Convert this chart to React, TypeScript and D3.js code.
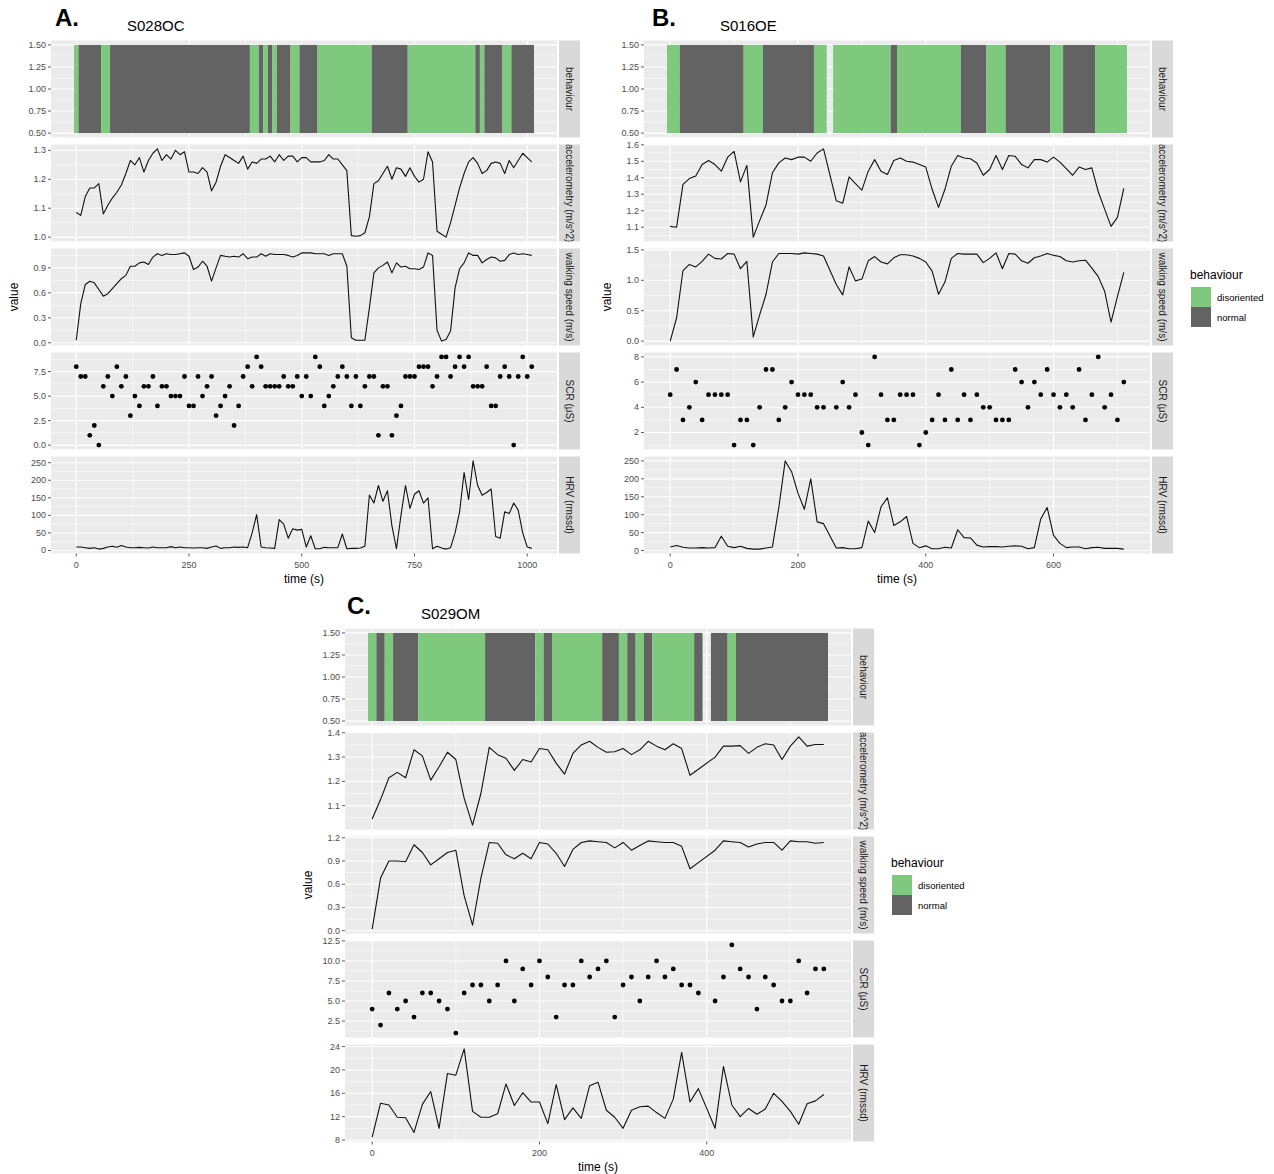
import React, { useEffect, useRef } from "react";
import * as d3 from "d3";

const FONT = "'Liberation Sans', Arial, Helvetica, sans-serif";
const GREEN = "#7FC97F";
const GREY = "#636363";
const PANEL_W = 506;
const PANEL_H = 97;
const PANEL_STEP = 104;
const STRIP_W = 21;

const FACETS = ["behaviour", "accelerometry (m/s^2)", "walking speed (m/s)", "SCR (\u03bcS)", "HRV (rmssd)"];
const BEHAVIOUR_LEVELS = ["disoriented", "normal"];
const BEHAVIOUR_TICKS = [0.5, 0.75, 1, 1.25, 1.5];

type Run = [number, number, string];

// ---- S028OC (A) ----
const A_TIME = d3.range(0, 1020, 10);
const A_ACC = [
  1.085, 1.075, 1.14, 1.17, 1.17, 1.185, 1.08, 1.11, 1.135, 1.155,
  1.18, 1.22, 1.265, 1.25, 1.275, 1.225, 1.265, 1.29, 1.305, 1.265,
  1.285, 1.27, 1.3, 1.285, 1.295, 1.225, 1.225, 1.22, 1.24, 1.225,
  1.16, 1.19, 1.245, 1.285, 1.275, 1.265, 1.255, 1.28, 1.235, 1.26,
  1.255, 1.27, 1.27, 1.28, 1.26, 1.285, 1.265, 1.28, 1.28, 1.26,
  1.275, 1.275, 1.26, 1.26, 1.26, 1.265, 1.285, 1.27, 1.27, 1.25,
  1.23, 1.005, 1.003, 1.005, 1.015, 1.07, 1.185, 1.195, 1.22, 1.245,
  1.2, 1.24, 1.235, 1.21, 1.24, 1.21, 1.19, 1.2, 1.295, 1.26,
  1.02, 1.01, 1.0, 1.05, 1.11, 1.17, 1.22, 1.26, 1.275, 1.255,
  1.22, 1.23, 1.255, 1.26, 1.255, 1.22, 1.265, 1.24, 1.265, 1.29,
  1.275, 1.26,
];
const A_WALK = [
  0.03, 0.47, 0.7, 0.74, 0.72, 0.64, 0.56, 0.59, 0.65, 0.71,
  0.77, 0.81, 0.92, 0.92, 0.96, 0.97, 0.94, 1.03, 1.07, 1.05,
  1.07, 1.06, 1.06, 1.07, 1.08, 1.04, 0.88, 0.91, 0.98, 0.92,
  0.74, 0.9, 1.05, 1.04, 1.03, 1.04, 1.03, 1.07, 1.01, 1.03,
  1.03, 1.07, 1.04, 1.07, 1.06, 1.06, 1.06, 1.05, 1.03, 1.05,
  1.08, 1.08, 1.08, 1.07, 1.07, 1.07, 1.05, 1.07, 1.07, 1.07,
  0.92, 0.06, 0.03, 0.03, 0.03, 0.42, 0.84, 0.9, 0.93, 0.97,
  0.84, 0.96, 0.91, 0.92, 0.89, 0.89, 0.88, 0.91, 1.08, 1.05,
  0.15, 0.02, 0.04, 0.14, 0.66, 0.89, 0.96, 1.08, 1.05, 1.05,
  0.96, 1.0, 1.03, 1.02, 0.98, 0.99, 1.06, 1.08, 1.06, 1.07,
  1.06, 1.05,
];
const A_SCR = [
  8, 7, 7, 1, 2, 0, 6, 7, 5, 8,
  6, 7, 3, 5, 4, 6, 6, 7, 4, 6,
  6, 5, 5, 5, 7, 4, 4, 7, 5, 6,
  7, 3, 4, 5, 6, 2, 4, 7, 8, 6,
  9, 8, 6, 6, 6, 6, 7, 6, 6, 7,
  5, 7, 5, 9, 8, 4, 5, 6, 7, 8,
  7, 4, 7, 4, 6, 7, 7, 1, 6, 6,
  1, 3, 4, 7, 7, 7, 8, 8, 8, 6,
  7, 9, 9, 7, 8, 9, 8, 9, 6, 6,
  6, 8, 4, 4, 7, 8, 7, 0, 7, 9,
  7, 8,
];
const A_HRV = [
  10, 10, 8, 6, 8, 4, 6, 10, 12, 9,
  14, 10, 8, 8, 9, 8, 7, 10, 8, 8,
  8, 11, 8, 10, 8, 8, 7, 8, 8, 6,
  10, 13, 6, 8, 8, 10, 9, 10, 8, 50,
  102, 10, 8, 7, 6, 88, 75, 35, 62, 58,
  60, 10, 42, 5, 5, 9, 8, 8, 8, 47,
  5, 6, 6, 7, 12, 158, 135, 185, 140, 170,
  70, 5, 100, 185, 120, 160, 170, 135, 150, 5,
  12, 7, 4, 8, 50, 110, 222, 145, 255, 185,
  157, 165, 175, 40, 35, 110, 105, 135, 115, 50,
  10, 6,
];
const A_BEHAVIOUR: Run[] = [
  [0, 0, "disoriented"], [10, 50, "normal"], [60, 70, "disoriented"], [80, 380, "normal"],
  [390, 400, "disoriented"], [410, 410, "normal"], [420, 420, "disoriented"], [430, 430, "normal"],
  [440, 440, "disoriented"], [450, 470, "normal"], [480, 490, "disoriented"], [500, 530, "normal"],
  [540, 650, "disoriented"], [660, 730, "normal"], [740, 880, "disoriented"], [890, 890, "normal"],
  [900, 900, "disoriented"], [910, 940, "normal"], [950, 960, "disoriented"], [970, 1010, "normal"],
];
const A_X_TICKS = [0, 250, 500, 750, 1000];
const A_Y_TICKS = [BEHAVIOUR_TICKS, [1.0, 1.1, 1.2, 1.3], [0, 0.3, 0.6, 0.9], [0, 2.5, 5, 7.5], [0, 50, 100, 150, 200, 250]];
const A_Y_FORMATS = [".2f", ".1f", ".1f", ".1f", "d"];

// ---- S016OE (B) ----
const B_TIME = d3.range(0, 720, 10);
const B_ACC = [
  1.105, 1.1, 1.36, 1.395, 1.41, 1.48, 1.505, 1.48, 1.44, 1.525,
  1.56, 1.375, 1.475, 1.04, 1.14, 1.235, 1.43, 1.49, 1.52, 1.51,
  1.525, 1.525, 1.5, 1.55, 1.575, null, 1.26, 1.245, 1.405, 1.365,
  1.325, 1.44, 1.51, 1.44, 1.42, 1.505, 1.52, 1.5, 1.495, 1.48,
  1.465, 1.33, 1.22, 1.33, 1.47, 1.535, 1.52, 1.515, 1.49, 1.415,
  1.45, 1.535, 1.45, 1.535, 1.53, 1.48, 1.46, 1.51, 1.51, 1.495,
  1.525, 1.495, 1.455, 1.415, 1.465, 1.45, 1.46, 1.315, 1.21, 1.105,
  1.16, 1.335,
];
const B_WALK = [
  0.0, 0.38, 1.16, 1.26, 1.22, 1.31, 1.43, 1.36, 1.35, 1.44,
  1.43, 1.19, 1.31, 0.07, 0.43, 0.77, 1.3, 1.44, 1.44, 1.44,
  1.43, 1.45, 1.44, 1.43, 1.4, null, 0.93, 0.76, 1.22, 0.99,
  1.02, 1.32, 1.39, 1.3, 1.27, 1.37, 1.42, 1.42, 1.4, 1.36,
  1.3, 1.15, 0.77, 0.97, 1.36, 1.44, 1.43, 1.43, 1.43, 1.29,
  1.36, 1.45, 1.19, 1.44, 1.43, 1.32, 1.28, 1.37, 1.4, 1.44,
  1.41, 1.39, 1.32, 1.3, 1.32, 1.33, 1.2, 1.06, 0.82, 0.31,
  0.73, 1.13,
];
const B_SCR = [
  5, 7, 3, 4, 6, 3, 5, 5, 5, 5,
  1, 3, 3, 1, 4, 7, 7, 3, 4, 6,
  5, 5, 5, 4, 4, null, 4, 6, 4, 5,
  2, 1, 8, 5, 3, 3, 5, 5, 5, 1,
  2, 3, 5, 3, 7, 3, 5, 3, 5, 4,
  4, 3, 3, 3, 7, 6, 4, 6, 5, 7,
  5, 4, 5, 4, 7, 3, 5, 8, 4, 5,
  3, 6,
];
const B_HRV = [
  10, 14, 9, 7, 7, 8, 7, 8, 40, 12,
  8, 12, 6, 4, 4, 7, 10, 120, 250, 220,
  160, 115, 200, 80, 75, null, 7, 8, 5, 5,
  8, 82, 50, 122, 147, 70, 80, 95, 20, 8,
  13, 5, 5, 9, 7, 58, 36, 35, 15, 10,
  11, 11, 10, 12, 13, 12, 5, 8, 88, 120,
  42, 20, 8, 10, 10, 5, 8, 9, 6, 6,
  6, 4,
];
const B_BEHAVIOUR: Run[] = [
  [0, 10, "disoriented"], [20, 110, "normal"], [120, 140, "disoriented"], [150, 220, "normal"],
  [230, 240, "disoriented"], [260, 340, "disoriented"], [350, 350, "normal"], [360, 450, "disoriented"],
  [460, 490, "normal"], [500, 520, "disoriented"], [530, 590, "normal"], [600, 610, "disoriented"],
  [620, 660, "normal"], [670, 710, "disoriented"],
];
const B_X_TICKS = [0, 200, 400, 600];
const B_Y_TICKS = [BEHAVIOUR_TICKS, [1.1, 1.2, 1.3, 1.4, 1.5, 1.6], [0, 0.5, 1, 1.5], [2, 4, 6, 8], [0, 50, 100, 150, 200, 250]];
const B_Y_FORMATS = [".2f", ".1f", ".1f", "d", "d"];

// ---- S029OM (C) ----
const C_TIME = d3.range(0, 550, 10);
const C_ACC = [
  1.045, 1.125, 1.215, 1.237, 1.215, 1.33, 1.305, 1.205, 1.26, 1.32,
  1.29, 1.13, 1.02, 1.15, 1.34, 1.31, 1.295, 1.245, 1.29, 1.28,
  1.335, 1.33, 1.275, 1.23, 1.315, 1.35, 1.365, 1.34, 1.32, 1.322,
  1.335, 1.31, 1.33, 1.365, 1.345, 1.33, 1.355, 1.335, 1.225, 1.25,
  null, 1.3, 1.345, 1.345, 1.347, 1.315, 1.34, 1.355, 1.35, 1.29,
  1.345, 1.383, 1.345, 1.352, 1.352,
];
const C_WALK = [
  0.02, 0.68, 0.9, 0.9, 0.89, 1.11, 1.01, 0.85, 0.93, 1.01,
  1.04, 0.45, 0.07, 0.68, 1.14, 1.13, 0.98, 0.93, 1.0, 0.93,
  1.14, 1.12, 1.0, 0.83, 1.05, 1.14, 1.16, 1.15, 1.14, 1.07,
  1.14, 1.04, 1.1, 1.16, 1.15, 1.14, 1.14, 1.09, 0.8, 0.88,
  null, 1.04, 1.16, 1.15, 1.14, 1.08, 1.12, 1.14, 1.14, 1.04,
  1.16, 1.15, 1.15, 1.13, 1.14,
];
const C_SCR = [
  4, 2, 6, 4, 5, 3, 6, 6, 5, 4,
  1, 6, 7, 7, 5, 7, 10, 5, 9, 7,
  10, 8, 3, 7, 7, 10, 8, 9, 10, 3,
  7, 8, 5, 8, 10, 8, 9, 7, 7, 6,
  null, 5, 8, 12, 9, 8, 4, 8, 7, 5,
  5, 10, 6, 9, 9,
];
const C_HRV = [
  8.5, 14.3, 14.0, 11.9, 11.8, 9.3, 14.1, 16.3, 10.0, 19.4,
  19.1, 23.6, 12.9, 11.9, 11.9, 12.5, 17.6, 13.9, 16.1, 14.5,
  14.5, 10.8, 17.5, 11.5, 13.5, 11.7, 17.3, 17.9, 13.1, 11.9,
  10.0, 13.1, 13.7, 13.8, 12.7, 11.7, 15.0, 23.0, 14.5, 16.8,
  null, 10.0, 20.6, 14.0, 12.0, 13.4, 12.4, 13.3, 16.0, 14.6,
  12.9, 10.7, 14.2, 14.7, 15.8,
];
const C_BEHAVIOUR: Run[] = [
  [0, 0, "disoriented"], [10, 10, "normal"], [20, 20, "disoriented"], [30, 50, "normal"],
  [60, 130, "disoriented"], [140, 190, "normal"], [200, 200, "disoriented"], [210, 210, "normal"],
  [220, 270, "disoriented"], [280, 290, "normal"], [300, 300, "disoriented"], [310, 310, "normal"],
  [320, 320, "disoriented"], [330, 330, "normal"], [340, 380, "disoriented"], [390, 390, "normal"],
  [410, 420, "normal"], [430, 430, "disoriented"], [440, 540, "normal"],
];
const C_X_TICKS = [0, 200, 400];
const C_Y_TICKS = [BEHAVIOUR_TICKS, [1.1, 1.2, 1.3, 1.4], [0, 0.3, 0.6, 0.9, 1.2], [2.5, 5, 7.5, 10, 12.5], [8, 12, 16, 20, 24]];
const C_Y_FORMATS = [".2f", ".1f", ".1f", ".1f", "d"];

const SUBJECTS = [
  { key: "A", letter: "A.", title: "S028OC", left: 51, top: 40.5, letterX: 55, legend: false,
    time: A_TIME, series: [A_ACC, A_WALK, A_SCR, A_HRV], runs: A_BEHAVIOUR,
    xTicks: A_X_TICKS, yTicks: A_Y_TICKS, yFormats: A_Y_FORMATS },
  { key: "B", letter: "B.", title: "S016OE", left: 644, top: 40.5, letterX: 652, legend: true,
    time: B_TIME, series: [B_ACC, B_WALK, B_SCR, B_HRV], runs: B_BEHAVIOUR,
    xTicks: B_X_TICKS, yTicks: B_Y_TICKS, yFormats: B_Y_FORMATS },
  { key: "C", letter: "C.", title: "S029OM", left: 345, top: 628.5, letterX: 347, legend: true,
    time: C_TIME, series: [C_ACC, C_WALK, C_SCR, C_HRV], runs: C_BEHAVIOUR,
    xTicks: C_X_TICKS, yTicks: C_Y_TICKS, yFormats: C_Y_FORMATS },
];

const fillFor = (label: string) => (label === "disoriented" ? GREEN : GREY);

// ggplot-style minor breaks: midpoints between majors, extended one step each side
function minorBreaks(ticks: number[], domain: number[]) {
  const step = ticks[1] - ticks[0];
  const ext = [ticks[0] - step, ...ticks, ticks[ticks.length - 1] + step];
  const mids = d3.pairs(ext).map(([a, b]) => (a + b) / 2);
  const lo = Math.min(domain[0], domain[1]);
  const hi = Math.max(domain[0], domain[1]);
  return mids.filter((m) => m >= lo && m <= hi);
}

function drawSubject(svg: any, s: any) {
  const left = s.left;
  const right = left + PANEL_W;
  const g = svg.append("g");

  const lo = (d3.min(s.time) as number) - 5;
  const hi = (d3.max(s.time) as number) + 5;
  const pad = (hi - lo) * 0.05;
  const x = d3.scaleLinear().domain([lo - pad, hi + pad]).range([left, right]);
  const xMinor = minorBreaks(s.xTicks, x.domain());

  FACETS.forEach((label, i) => {
    const pTop = s.top + i * PANEL_STEP;
    const pBot = pTop + PANEL_H;

    let yDom: number[];
    let rows: { t: number; v: number }[] = [];
    if (i === 0) {
      yDom = [0.45, 1.55];
    } else {
      const vals = s.series[i - 1];
      rows = s.time
        .map((t: number, k: number) => ({ t, v: vals[k] }))
        .filter((d: any) => d.v !== null && d.v !== undefined);
      const [a, b] = d3.extent(rows, (d) => d.v) as [number, number];
      const p = (b - a) * 0.05;
      yDom = [a - p, b + p];
    }
    const y = d3.scaleLinear().domain(yDom).range([pBot, pTop]);
    const ticks: number[] = s.yTicks[i];
    const fmt = d3.format(s.yFormats[i]);
    const yMinor = minorBreaks(ticks, yDom);

    // panel background + grid
    g.append("rect")
      .attr("x", left).attr("y", pTop)
      .attr("width", PANEL_W).attr("height", PANEL_H)
      .attr("fill", "#EBEBEB");

    const grid = g.append("g").attr("stroke", "#FFFFFF");
    grid.selectAll(".ymin").data(yMinor).join("line")
      .attr("x1", left).attr("x2", right)
      .attr("y1", (d) => y(d)).attr("y2", (d) => y(d))
      .attr("stroke-width", 0.55);
    grid.selectAll(".xmin").data(xMinor).join("line")
      .attr("x1", (d) => x(d)).attr("x2", (d) => x(d))
      .attr("y1", pTop).attr("y2", pBot)
      .attr("stroke-width", 0.55);
    grid.selectAll(".ymaj").data(ticks).join("line")
      .attr("x1", left).attr("x2", right)
      .attr("y1", (d) => y(d)).attr("y2", (d) => y(d))
      .attr("stroke-width", 1.1);
    grid.selectAll(".xmaj").data(s.xTicks).join("line")
      .attr("x1", (d: number) => x(d)).attr("x2", (d: number) => x(d))
      .attr("y1", pTop).attr("y2", pBot)
      .attr("stroke-width", 1.1);

    // data layer
    if (i === 0) {
      g.append("g").selectAll("rect").data(s.runs).join("rect")
        .attr("x", (d: Run) => x(d[0] - 5))
        .attr("width", (d: Run) => x(d[1] + 5) - x(d[0] - 5))
        .attr("y", y(1.5))
        .attr("height", y(0.5) - y(1.5))
        .attr("fill", (d: Run) => fillFor(d[2]));
    } else if (i === 3) {
      g.append("g").selectAll("circle").data(rows).join("circle")
        .attr("cx", (d) => x(d.t))
        .attr("cy", (d) => y(d.v))
        .attr("r", 2.4)
        .attr("fill", "#000");
    } else {
      const line = d3.line<{ t: number; v: number }>()
        .x((d) => x(d.t))
        .y((d) => y(d.v));
      g.append("path")
        .attr("d", line(rows))
        .attr("fill", "none")
        .attr("stroke", "#111")
        .attr("stroke-width", 1.1)
        .attr("stroke-linejoin", "round");
    }

    // y axis ticks
    const ax = g.append("g");
    ax.selectAll("line").data(ticks).join("line")
      .attr("x1", left - 3).attr("x2", left)
      .attr("y1", (d) => y(d)).attr("y2", (d) => y(d))
      .attr("stroke", "#333").attr("stroke-width", 0.8);
    ax.selectAll("text").data(ticks).join("text")
      .attr("x", left - 5)
      .attr("y", (d) => y(d))
      .attr("text-anchor", "end")
      .attr("dominant-baseline", "central")
      .style("font-size", "9px")
      .style("fill", "#4D4D4D")
      .text((d) => fmt(d));

    // strip on the right (label clipped to the strip box)
    const sx = right + 2;
    const clipId = `strip-${s.key}-${i}`;
    g.append("clipPath").attr("id", clipId)
      .append("rect")
      .attr("x", sx).attr("y", pTop).attr("width", STRIP_W).attr("height", PANEL_H);
    g.append("rect")
      .attr("x", sx).attr("y", pTop)
      .attr("width", STRIP_W).attr("height", PANEL_H)
      .attr("fill", "#D9D9D9");
    g.append("g")
      .attr("clip-path", `url(#${clipId})`)
      .append("text")
      .attr("transform", `translate(${sx + STRIP_W / 2},${pTop + PANEL_H / 2}) rotate(90)`)
      .attr("text-anchor", "middle")
      .attr("dominant-baseline", "central")
      .style("font-size", "10px")
      .style("fill", "#1A1A1A")
      .text(label);
  });

  // x axis under the last panel
  const bottom = s.top + (FACETS.length - 1) * PANEL_STEP + PANEL_H;
  const xa = g.append("g");
  xa.selectAll("line").data(s.xTicks).join("line")
    .attr("x1", (d: number) => x(d)).attr("x2", (d: number) => x(d))
    .attr("y1", bottom).attr("y2", bottom + 3)
    .attr("stroke", "#333").attr("stroke-width", 0.8);
  xa.selectAll("text").data(s.xTicks).join("text")
    .attr("x", (d: number) => x(d))
    .attr("y", bottom + 14)
    .attr("text-anchor", "middle")
    .style("font-size", "9px")
    .style("fill", "#4D4D4D")
    .text((d: number) => d);

  g.append("text")
    .attr("x", (left + right) / 2)
    .attr("y", bottom + 29)
    .attr("text-anchor", "middle")
    .style("font-size", "12px")
    .style("fill", "#000")
    .text("time (s)");

  g.append("text")
    .attr("transform", `translate(${left - 37},${(s.top + bottom) / 2}) rotate(-90)`)
    .attr("text-anchor", "middle")
    .attr("dominant-baseline", "central")
    .style("font-size", "12px")
    .style("fill", "#000")
    .text("value");

  // panel letter and subject title
  g.append("text")
    .attr("x", s.letterX)
    .attr("y", s.top - 14.5)
    .style("font-size", "24px")
    .style("font-weight", 700)
    .style("fill", "#000")
    .text(s.letter);
  g.append("text")
    .attr("x", left + 76)
    .attr("y", s.top - 9.5)
    .style("font-size", "15px")
    .style("fill", "#000")
    .text(s.title);

  if (s.legend) {
    const lx = right + 40;
    const lg = g.append("g");
    lg.append("text")
      .attr("x", lx).attr("y", s.top + 238.5)
      .style("font-size", "12px")
      .style("fill", "#000")
      .text("behaviour");
    lg.selectAll("rect").data(BEHAVIOUR_LEVELS).join("rect")
      .attr("x", lx + 1)
      .attr("y", (_d, k) => s.top + 246.5 + k * 20)
      .attr("width", 20).attr("height", 20)
      .attr("fill", (d) => fillFor(d));
    lg.selectAll(".lab").data(BEHAVIOUR_LEVELS).join("text")
      .attr("x", lx + 27)
      .attr("y", (_d, k) => s.top + 256.5 + k * 20)
      .attr("dominant-baseline", "central")
      .style("font-size", "9.5px")
      .style("fill", "#000")
      .text((d) => d);
  }
}

export default function App() {
  const ref = useRef<SVGSVGElement>(null);

  useEffect(() => {
    const svg = d3.select(ref.current);
    svg.selectAll("*").remove();
    svg.append("rect").attr("width", 1274).attr("height", 1174).attr("fill", "#fff");
    SUBJECTS.forEach((s) => drawSubject(svg, s));
  }, []);

  return (
    <svg
      ref={ref}
      width={1274}
      height={1174}
      style={{ position: "absolute", left: 0, top: 0, display: "block", fontFamily: FONT }}
    />
  );
}
